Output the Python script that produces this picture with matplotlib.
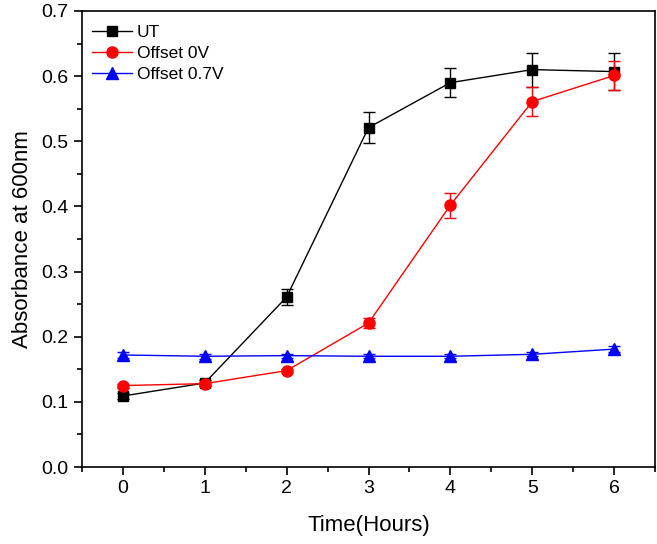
import matplotlib.pyplot as plt
from matplotlib.ticker import MultipleLocator

plt.rcParams['font.family'] = ['Liberation Sans', 'DejaVu Sans']

# Data
hours = [0, 1, 2, 3, 4, 5, 6]
ut = [0.109, 0.129, 0.261, 0.521, 0.590, 0.610, 0.607]
ut_err = [0.004, 0.004, 0.012, 0.024, 0.022, 0.026, 0.028]
off0 = [0.125, 0.128, 0.148, 0.221, 0.402, 0.561, 0.601]
off0_err = [0.003, 0.003, 0.003, 0.007, 0.019, 0.022, 0.023]
off07 = [0.172, 0.170, 0.171, 0.170, 0.170, 0.173, 0.181]
off07_err = [0.004, 0.004, 0.003, 0.003, 0.003, 0.003, 0.005]

fig = plt.figure(figsize=(6.57, 5.44), dpi=100)
ax = fig.add_axes([0.1248, 0.1415, 0.8722, 0.8383])

series = [
    (ut, ut_err, 'black', 's', 7, 'UT'),
    (off0, off0_err, 'red', 'o', 8, 'Offset 0V'),
    (off07, off07_err, 'blue', '^', 8, 'Offset 0.7V'),
]
handles = []
for vals, errs, col, mk, ms, lab in series:
    ax.errorbar(hours, vals, yerr=errs, fmt='none', ecolor=col, capsize=4, elinewidth=1)
    line, = ax.plot(hours, vals, color=col, marker=mk, markersize=ms, linewidth=1, label=lab)
    handles.append(line)

ax.set_xlim(-0.5, 6.5)
ax.set_ylim(0, 0.7)
ax.xaxis.set_major_locator(MultipleLocator(1))
ax.xaxis.set_minor_locator(MultipleLocator(0.5))
ax.yaxis.set_major_locator(MultipleLocator(0.1))
ax.yaxis.set_minor_locator(MultipleLocator(0.05))
ax.yaxis.set_major_formatter(plt.FormatStrFormatter('%.1f'))
ax.tick_params(which='both', direction='out', top=False, right=False, labelsize=14, width=1.2)
ax.tick_params(which='major', length=6)
ax.tick_params(which='minor', length=3.5)
for s in ax.spines.values():
    s.set_linewidth(1.2)

ax.set_xlabel('Time(Hours)', fontsize=16, labelpad=13)
ax.set_ylabel('Absorbance at 600nm', fontsize=16, labelpad=6)

ax.legend(handles=handles, loc='upper left', bbox_to_anchor=(-0.01, 1.003), frameon=False,
          fontsize=12.5, handlelength=2.3, borderaxespad=0.5, labelspacing=0.32,
          handletextpad=0.3)

plt.savefig('out.png', dpi=100)
